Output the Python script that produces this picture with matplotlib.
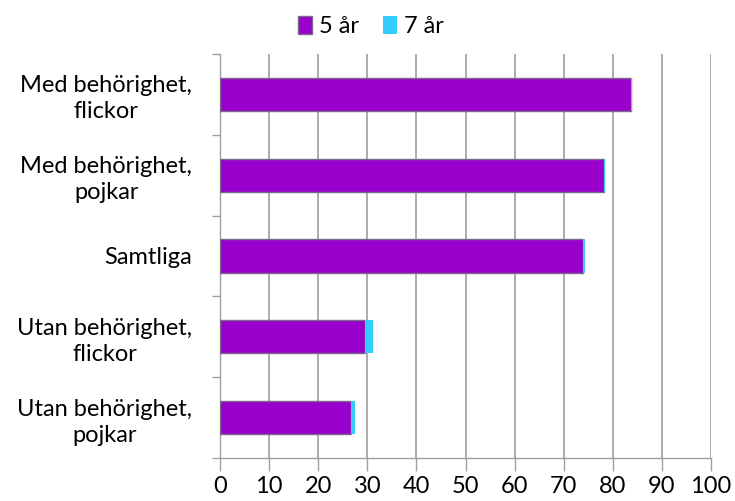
import matplotlib
matplotlib.use('Agg')
import matplotlib.pyplot as plt
from matplotlib.ticker import FixedLocator, NullFormatter

plt.rcParams['font.family'] = ['Lato', 'DejaVu Sans']

categories = ['Med behörighet,\nflickor', 'Med behörighet,\npojkar', 'Samtliga',
              'Utan behörighet,\nflickor', 'Utan behörighet,\npojkar']
five_years = [83.7, 78.2, 74.0, 29.5, 26.7]
seven_extra = [0.3, 0.2, 0.3, 1.7, 0.7]
series_names = ['5 år', '7 år']
xticks = list(range(0, 101, 10))

fig = plt.figure(figsize=(7.35, 5.01), dpi=100)
ax = fig.add_axes([220 / 735, 1 - 458 / 501, 491 / 735, 404 / 501])

ypos = list(range(len(categories)))
ax.barh(ypos, five_years, height=0.41, color='#9900CC', edgecolor='#7a6a8a',
        linewidth=1, label=series_names[0], zorder=3)
ax.barh(ypos, seven_extra, left=five_years, height=0.41, color='#33CCFF',
        linewidth=0, label=series_names[1], zorder=3)

ax.set_xlim(0, 100)
ax.set_ylim(len(categories) - 0.5, -0.5)
ax.set_xticks(xticks)
ax.set_xticklabels([str(t) for t in xticks], fontsize=17)
ax.set_yticks(ypos)
ax.set_yticklabels(categories, fontsize=17, ha='right', multialignment='center',
                   linespacing=1.3)
ax.tick_params(axis='y', length=0, pad=20)
ax.yaxis.set_minor_locator(FixedLocator([i - 0.5 for i in range(len(categories) + 1)]))
ax.yaxis.set_minor_formatter(NullFormatter())
ax.tick_params(axis='y', which='minor', length=6, color='#a0a0a0', width=1)
ax.tick_params(axis='x', length=9, color='#a0a0a0', width=1, pad=4, direction='out')

ax.grid(axis='x', color='#a6a6a6', linewidth=1.3, zorder=0)
for side in ['top', 'right']:
    ax.spines[side].set_visible(False)
for side in ['left', 'bottom']:
    ax.spines[side].set_color('#a0a0a0')
    ax.spines[side].set_linewidth(1)

fig.legend(loc='upper center', bbox_to_anchor=(0.505, 1.01), ncol=2, frameon=False,
           fontsize=17, handlelength=0.6, handleheight=0.75, handletextpad=0.3,
           columnspacing=1.0)

fig.savefig('out.png', dpi=100)
